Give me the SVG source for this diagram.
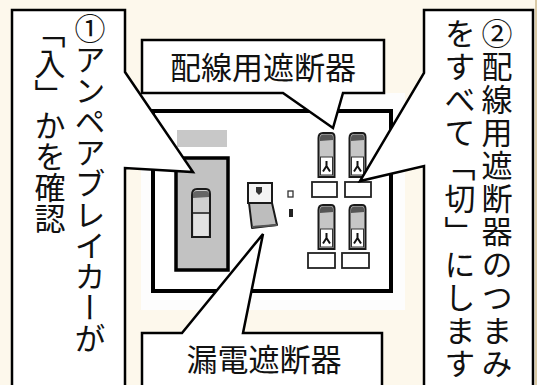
<svg xmlns="http://www.w3.org/2000/svg" width="537" height="385" viewBox="0 0 537 385">
  <style>
    .bg { fill: #FDF8EC; }
    .callout { fill: #ffffff; stroke: #000000; stroke-width: 2.5; stroke-linejoin: miter; }
    .lbl { font-family: "Noto Sans CJK JP", "Noto Sans", sans-serif; font-size: 31px; fill: #111111; }
    .v { font-family: "Noto Sans CJK JP", "Noto Sans", sans-serif; font-size: 31px; fill: #111111; writing-mode: vertical-rl; }
    .line { stroke: #1a1a1a; fill: none; }
    .tag { fill: #ffffff; stroke: #222222; stroke-width: 1.8; }
  </style>
  <defs>
    <!-- small branch breaker: lever on top, handle window with symbol below -->
    <symbol id="mcb" viewBox="0 0 19 46" width="19" height="46" overflow="visible">
      <path d="M1.5,6 Q1.5,1 6,1 L14,1 Q17.5,1 17.5,5 L17.5,45 L1.5,45 Z" fill="#c6c6c6" stroke="#1a1a1a" stroke-width="2"/>
      <path d="M3,6 Q3,2.5 6.5,2.5 L13.5,2.5 Q16,2.5 16,5.5 L16,8 L3,9 Z" fill="#555555"/>
      <rect x="3.5" y="25" width="12" height="18" fill="#ffffff" stroke="#333333" stroke-width="1"/>
      <path d="M9.5,29 L9.5,34 L6,39.5 M9.5,34 L13,39.5" stroke="#111111" stroke-width="2" fill="none"/>
    </symbol>
  </defs>

  <rect class="bg" x="0" y="0" width="537" height="385"/>
  <rect x="535" y="0" width="2" height="385" fill="#d9c9a6"/>

  <!-- distribution board -->
  <g id="panel">
    <rect x="141" y="93" width="264" height="217" fill="#fdfdfd"/>
    <rect x="153" y="111" width="238" height="180" fill="#ffffff" stroke="#000000" stroke-width="4"/>
    <rect x="177" y="130" width="50" height="17" fill="#c8c8c8"/>
    <!-- amp (main) breaker -->
    <g id="amp-breaker">
      <rect x="176" y="158" width="52" height="112" fill="#c2c2c2" stroke="#000000" stroke-width="3.5"/>
      <path d="M192,195 Q192,189 197,189 L206,189 Q210,189 210,194 L210,237 L192,237 Z" fill="#cfcfcf" stroke="#1a1a1a" stroke-width="2"/>
      <path d="M193,194 Q193,191 197,191 L206,191 Q209,191 209,194 L209,197 L193,198 Z" fill="#666666"/>
      <line x1="192" y1="213" x2="210" y2="213" stroke="#1a1a1a" stroke-width="1.5"/>
      <rect x="194" y="214" width="14" height="22" fill="#e2e2e2"/>
    </g>
    <!-- earth leakage breaker -->
    <g id="elcb">
      <rect x="248" y="183" width="24" height="20" fill="#f4f4f4" stroke="#1a1a1a" stroke-width="2"/>
      <path d="M256,187 L262,187 L262,192 L259,195 L256,192 Z" fill="#333333"/>
      <path d="M249,203 L272,203 L277,225 L252,228 Z" fill="#bdbdbd" stroke="#1a1a1a" stroke-width="2" stroke-linejoin="round"/>
      <line x1="252" y1="227" x2="277" y2="225" stroke="#555555" stroke-width="2"/>
      <rect x="288" y="191" width="5" height="6" fill="#ffffff" stroke="#333333" stroke-width="1.3"/>
      <rect x="289" y="209" width="4" height="8" fill="#222222"/>
    </g>
    <!-- branch breakers -->
    <g id="branch-breakers">
      <use href="#mcb" x="317" y="132"/>
      <use href="#mcb" x="348" y="132"/>
      <use href="#mcb" x="317" y="204"/>
      <use href="#mcb" x="348" y="204"/>
      <rect class="tag" x="312" y="182" width="25" height="15"/>
      <rect class="tag" x="345" y="182" width="26" height="15"/>
      <rect class="tag" x="308" y="253" width="27" height="15"/>
      <rect class="tag" x="342" y="253" width="27" height="15"/>
    </g>
  </g>

  <!-- callouts -->
  <g id="callout-amp">
    <path class="callout" d="M12,10 H125 V72 L193,172 L125,168 V395 H12 Z"/>
    <text class="v" x="90" y="13">①アンペアブレイカーが</text>
    <text class="v" x="50" y="17">「入」かを確認</text>
  </g>
  <g id="callout-mcb">
    <path class="callout" d="M142,40 H384 V93 H343 L333,128 L283,93 H142 Z"/>
    <text class="lbl" x="263" y="79" text-anchor="middle">配線用遮断器</text>
  </g>
  <g id="callout-elcb">
    <path class="callout" d="M142,333 H182 L263,234 L243,333 H382 V395 H142 Z"/>
    <text class="lbl" x="264" y="371" text-anchor="middle">漏電遮断器</text>
  </g>
  <g id="callout-off">
    <path class="callout" d="M424,10 H533 V395 H424 V166 L360,181 L424,73 Z"/>
    <text class="v" x="497" y="18" style="letter-spacing:2px">②配線用遮断器のつまみ</text>
    <text class="v" x="460" y="18" style="letter-spacing:2px">をすべて「切」にします</text>
  </g>
</svg>
